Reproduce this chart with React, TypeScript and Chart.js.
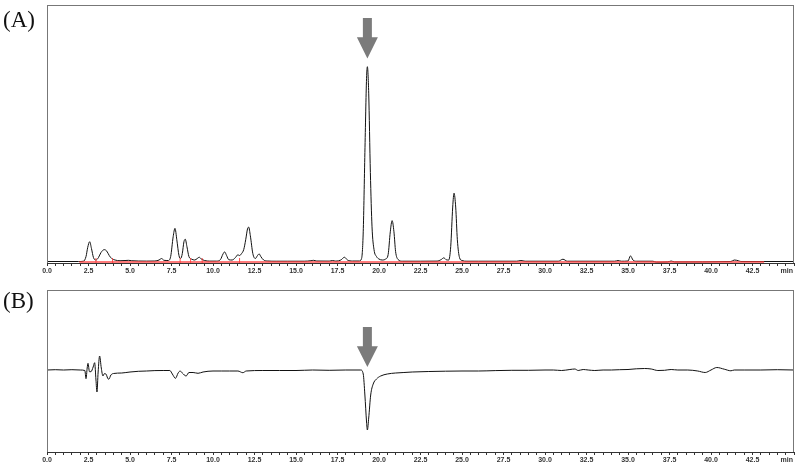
import React, { useEffect, useRef } from "react";
import { Chart, registerables } from "chart.js";

Chart.register(...registerables);

// ---- Data (times in min, signal heights in arbitrary units) ----
const timesA = [0, 1.9, 2.2, 2.35, 2.45, 2.57, 2.68, 2.8, 2.95, 3.1, 3.25, 3.45, 3.6, 3.75, 3.9, 4.1, 4.4, 4.7, 4.9, 5.1, 5.5, 6.0, 6.5, 6.75, 6.9, 7.05, 7.3, 7.45, 7.6, 7.71, 7.82, 7.95, 8.05, 8.15, 8.25, 8.33, 8.43, 8.55, 8.7, 8.9, 9.05, 9.17, 9.3, 9.5, 9.8, 10.2, 10.45, 10.6, 10.7, 10.82, 10.95, 11.15, 11.35, 11.5, 11.6, 11.72, 11.85, 11.97, 12.08, 12.15, 12.25, 12.4, 12.55, 12.68, 12.78, 12.88, 13.05, 13.3, 13.8, 14.5, 15.5, 15.9, 16.05, 16.25, 17.0, 17.2, 17.4, 17.7, 17.92, 18.1, 18.4, 18.8, 18.95, 19.05, 19.15, 19.25, 19.3, 19.38, 19.48, 19.58, 19.7, 19.85, 20.0, 20.2, 20.4, 20.55, 20.68, 20.79, 20.9, 21.0, 21.15, 21.4, 22.5, 23.5, 23.75, 23.9, 24.05, 24.2, 24.32, 24.44, 24.52, 24.62, 24.72, 24.85, 25.0, 25.3, 26, 28.3, 28.55, 28.8, 30.8, 31.08, 31.35, 34.2, 34.4, 34.6, 35.0, 35.15, 35.3, 35.5, 36.5, 36.7, 37.4, 37.6, 37.8, 41.2, 41.4, 41.65, 41.8, 45];
const signalA = [0, 0, 0.3, 5, 14, 20, 13, 4, 1.5, 4, 9, 12, 10.5, 6, 3, 1.5, 0.8, 1, 1.2, 0.8, 0.5, 0.4, 0.5, 1.5, 3, 1.2, 1, 5, 25, 33.5, 22, 6, 3, 8, 20, 22.5, 15, 5, 2.5, 1.5, 3, 4.3, 2.5, 1, 0.4, 0.4, 2, 7.5, 9.7, 6, 1.8, 1.5, 4, 6.8, 6, 8, 12, 22, 33, 34.7, 26, 8, 3, 6, 7.7, 5, 1.5, 0.5, 0.3, 0.3, 0.3, 0.8, 1.2, 0.5, 0.4, 1, 0.4, 1.5, 4.3, 1.5, 0.5, 0.5, 3, 30, 110, 185, 196.7, 170, 90, 35, 12, 5, 2.5, 1.5, 2.5, 7, 30, 41.3, 30, 10, 2, 0.3, 0.3, 0.4, 2, 3.7, 1.8, 1.5, 15, 55, 69, 55, 22, 4, 1, 0.3, 0.3, 0.3, 1, 0.3, 0.3, 2.3, 0.3, 0.3, 1, 0.3, 0.5, 5.7, 1.5, 0.3, 0.3, -0.6, -0.4, 0.5, -0.4, 0, 1.5, 0.8, 0, 0];

const baselineStartA = 1.95;
const baselineEndA = 43.2;
const integrationMarksA = [2.95, 3.95, 8.02, 8.65, 9.35, 11.6];

const timesB = [0, 0.5, 1.0, 1.5, 2.0, 2.28, 2.35, 2.42, 2.47, 2.56, 2.65, 2.78, 2.87, 2.95, 3.01, 3.08, 3.17, 3.27, 3.37, 3.45, 3.55, 3.65, 3.72, 3.85, 4.0, 4.5, 5.0, 5.5, 6.0, 6.5, 7.0, 7.4, 7.55, 7.74, 7.9, 8.02, 8.15, 8.38, 8.55, 8.8, 9.1, 9.4, 10.0, 10.5, 11.0, 11.5, 11.8, 12.0, 13, 14, 15, 16, 17, 18, 18.9, 19.05, 19.15, 19.25, 19.3, 19.38, 19.5, 19.65, 19.85, 20.1, 20.5, 21, 21.5, 22, 23, 24, 25, 26, 27, 28, 29, 30, 30.5, 31, 31.5, 31.8, 32.0, 32.3, 32.6, 33, 33.5, 34, 34.5, 35, 35.5, 36, 36.4, 36.8, 37.2, 37.6, 38, 38.6, 39.2, 39.65, 40.0, 40.35, 40.8, 41.2, 41.4, 42, 43, 44, 45];
const signalB = [0, 0.3, 0, 0.3, 0, -0.5, -8.7, 2, 6.7, -1.7, -1.7, 3, 7.3, -10, -22, -2, 14, 2, -6, -3.7, -4, -8, -9.3, -5, -3.5, -3, -2, -1.3, -1, -0.6, -0.5, -0.5, -4, -8.3, -3, -1, -3, -6, -2.5, -2.5, -3.3, -2, -1, -1, -1, -1, -2.7, -1, -0.5, -0.5, -0.5, 0, -0.3, 0, 0, -4, -25, -52, -60, -48, -25, -14, -9, -6, -4, -3, -2.5, -2, -1.5, -1.2, -1, -1, -0.6, -0.3, -0.3, 0, 0, -0.5, 0.5, 1, -0.5, 0.5, 0, -0.5, 0, 0, 0.3, 0.5, 1.2, 1.5, 1, -0.5, -0.3, 0.5, 0, 0, -1, -2.5, 0, 2.5, 0.8, -0.8, 0, 0, 0, 0.3, 0];

const targetTime = 19.3; // arrow position (min)
const xMin = 0;
const xMax = 45;
const tickStep = 0.5;
const labelStep = 2.5;
const unitLabel = "min";

const rangeA = { min: -1.5, max: 259 };
const arrowA = { top: 246, tip: 205 };
const rangeB = { min: -82, max: 80 };
const arrowB = { top: 43, tip: 3 };

const tickFont = { family: "'Liberation Sans', Arial, sans-serif", size: 7, weight: "bold" as const };

const pts = (xs: number[], ys: number[]) => xs.map((x, i) => ({ x, y: ys[i] }));

function xScale(heightPx: number) {
  return {
    type: "linear" as const,
    min: xMin,
    max: xMax,
    afterFit: (s: any) => {
      s.height = heightPx;
    },
    afterBuildTicks: (s: any) => {
      const t = [];
      for (let v = xMin; v <= xMax + 1e-9; v += tickStep) t.push({ value: Math.round(v * 10) / 10 });
      s.ticks = t;
    },
    ticks: {
      autoSkip: false,
      maxRotation: 0,
      minRotation: 0,
      padding: 1,
      color: "#333",
      font: tickFont,
      callback: (v: any) => {
        const n = Number(v);
        if (Math.abs(n - xMax) < 1e-6) return "";
        if (Math.abs(n / labelStep - Math.round(n / labelStep)) < 1e-6) return n.toFixed(1);
        return "";
      },
    },
    grid: {
      display: true,
      drawOnChartArea: false,
      drawTicks: true,
      tickLength: 3,
      color: "#333",
    },
    border: { display: false },
  };
}

function makePlugin(arrow: { top: number; tip: number }) {
  return {
    id: "frameArrow",
    afterDatasetsDraw(chart: any) {
      const { ctx, chartArea, scales } = chart;
      ctx.save();
      ctx.strokeStyle = "#777";
      ctx.lineWidth = 1;
      ctx.strokeRect(chartArea.left + 0.5, chartArea.top + 0.5, chartArea.right - chartArea.left - 1, chartArea.bottom - chartArea.top);
      ctx.strokeStyle = "#333";
      ctx.beginPath();
      ctx.moveTo(chartArea.left, chartArea.bottom + 0.5);
      ctx.lineTo(chartArea.right, chartArea.bottom + 0.5);
      ctx.stroke();
      // unit label at the end of the time axis
      ctx.fillStyle = "#333";
      ctx.font = `bold ${tickFont.size}px ${tickFont.family}`;
      ctx.textAlign = "right";
      ctx.textBaseline = "top";
      ctx.fillText(unitLabel, chartArea.right - 1, chartArea.bottom + 5);
      // arrow
      const cx = scales.x.getPixelForValue(targetTime);
      const yTop = scales.y.getPixelForValue(arrow.top);
      const yTip = scales.y.getPixelForValue(arrow.tip);
      const len = yTip - yTop;
      const headH = len * 0.52;
      const shaftW = 4.5;
      const headW = 10.5;
      ctx.fillStyle = "#7b7b7b";
      ctx.beginPath();
      ctx.moveTo(cx - shaftW, yTop);
      ctx.lineTo(cx + shaftW, yTop);
      ctx.lineTo(cx + shaftW, yTip - headH);
      ctx.lineTo(cx + headW, yTip - headH);
      ctx.lineTo(cx, yTip);
      ctx.lineTo(cx - headW, yTip - headH);
      ctx.lineTo(cx - shaftW, yTip - headH);
      ctx.closePath();
      ctx.fill();
      ctx.restore();
    },
  };
}

export default function App() {
  const refA = useRef<HTMLCanvasElement>(null);
  const refB = useRef<HTMLCanvasElement>(null);

  useEffect(() => {
    const common = {
      responsive: false,
      animation: false as const,
      devicePixelRatio: 1,
      plugins: { legend: { display: false }, tooltip: { enabled: false } },
      elements: { point: { radius: 0 } },
    };

    const chartA = new Chart(refA.current!, {
      type: "line",
      data: {
        datasets: [
          {
            data: [
              { x: baselineStartA, y: -0.4 },
              { x: baselineEndA, y: -0.4 },
            ],
            borderColor: "rgba(255,60,60,0.9)",
            borderWidth: 1.5,
            pointRadius: 0,
            order: 2,
          },
          {
            type: "scatter" as any,
            data: integrationMarksA.map((x) => ({ x, y: 1 })),
            pointStyle: "line",
            rotation: 90,
            pointRadius: 2.5,
            borderColor: "rgba(255,60,60,0.9)",
            borderWidth: 1,
            showLine: false,
            order: 1,
          } as any,
          {
            data: pts(timesA, signalA),
            borderColor: "#111",
            borderWidth: 1,
            pointRadius: 0,
            cubicInterpolationMode: "monotone",
            order: 3,
          },
        ],
      },
      options: {
        ...common,
        layout: { padding: { left: 47, right: 6, top: 3, bottom: 0 } },
        scales: {
          x: xScale(19) as any,
          y: { display: false, min: rangeA.min, max: rangeA.max },
        },
      },
      plugins: [makePlugin(arrowA)],
    });

    const chartB = new Chart(refB.current!, {
      type: "line",
      data: {
        datasets: [
          {
            data: pts(timesB, signalB),
            borderColor: "#111",
            borderWidth: 1,
            pointRadius: 0,
            cubicInterpolationMode: "monotone",
          },
        ],
      },
      options: {
        ...common,
        layout: { padding: { left: 47, right: 6, top: 8, bottom: 0 } },
        scales: {
          x: xScale(16) as any,
          y: { display: false, min: rangeB.min, max: rangeB.max },
        },
      },
      plugins: [makePlugin(arrowB)],
    });

    return () => {
      chartA.destroy();
      chartB.destroy();
    };
  }, []);

  const labelStyle: React.CSSProperties = {
    position: "absolute",
    left: 3,
    fontFamily: "'Liberation Serif', 'DejaVu Serif', serif",
    fontSize: 23,
    lineHeight: "24px",
    color: "#111",
  };

  return (
    <div style={{ position: "fixed", left: 0, top: 0, width: 800, height: 468, background: "#fff", overflow: "hidden" }}>
      <canvas ref={refA} width={800} height={282} style={{ position: "absolute", left: 0, top: 0 }} />
      <canvas ref={refB} width={800} height={186} style={{ position: "absolute", left: 0, top: 282 }} />
      <div style={{ ...labelStyle, top: 8 }}>(A)</div>
      <div style={{ ...labelStyle, top: 289 }}>(B)</div>
    </div>
  );
}
